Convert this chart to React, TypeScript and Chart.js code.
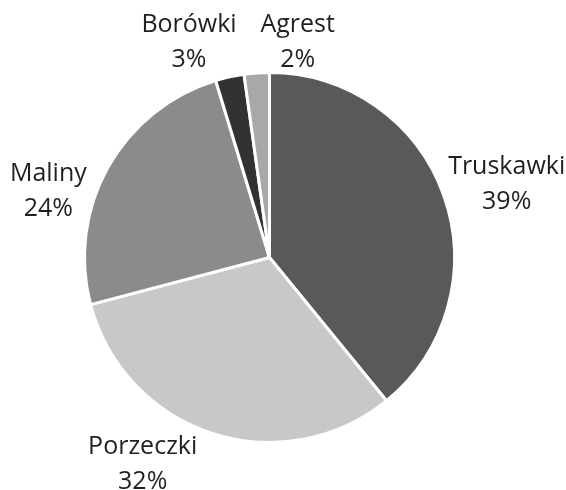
import React, { useEffect, useRef } from "react";
import { Chart, registerables } from "chart.js";

Chart.register(...registerables);

const categories = ["Truskawki", "Porzeczki", "Maliny", "Borówki", "Agrest"];
const values = [39.1, 31.8, 24.4, 2.5, 2.2];
const percentLabels = ["39%", "32%", "24%", "3%", "2%"];

const colors = ["#58595b", "#c7c8ca", "#898b8d", "#323234", "#a6a8aa"];
// label placement: angle (deg, clockwise from top) and distance as a multiple of the radius
const labelAngles = [72.8, 211.6, 286.7, 339.5, 7.45];
const labelDist = [1.342, 1.308, 1.248, 1.242, 1.173];

const FONT = "25px 'Open Sans'";

const labelPlugin = {
  id: "outsideLabels",
  afterDraw(chart: any) {
    const meta = chart.getDatasetMeta(0);
    const ctx = chart.ctx;
    ctx.save();
    ctx.font = FONT;
    ctx.fillStyle = "#231f20";
    ctx.textAlign = "center";
    ctx.textBaseline = "middle";
    meta.data.forEach((arc: any, i: number) => {
      const { x, y, outerRadius } = arc.getProps(["x", "y", "outerRadius"], true);
      const a = (labelAngles[i] * Math.PI) / 180;
      const d = outerRadius * labelDist[i];
      const cx = x + Math.sin(a) * d;
      const cy = y - Math.cos(a) * d;
      ctx.fillText(categories[i], cx, cy - 17);
      ctx.fillText(percentLabels[i], cx, cy + 18);
    });
    ctx.restore();
  },
};

export default function App() {
  const ref = useRef<HTMLCanvasElement>(null);
  useEffect(() => {
    document.body.style.margin = "0";
    const chart = new Chart(ref.current!, {
      type: "pie",
      data: {
        labels: categories,
        datasets: [
          {
            data: values,
            backgroundColor: colors,
            borderColor: "#ffffff",
            borderWidth: 3,
            hoverOffset: 0,
          },
        ],
      },
      options: {
        animation: false,
        responsive: false,
        layout: { padding: { left: 83, right: 110, top: 71, bottom: 46 } },
        plugins: { legend: { display: false }, tooltip: { enabled: false } },
      },
      plugins: [labelPlugin],
    });
    return () => chart.destroy();
  }, []);
  return (
    <div style={{ position: "absolute", left: 0, top: 0, width: 566, height: 490, background: "#fff" }}>
      <canvas ref={ref} width={566} height={490} />
    </div>
  );
}
